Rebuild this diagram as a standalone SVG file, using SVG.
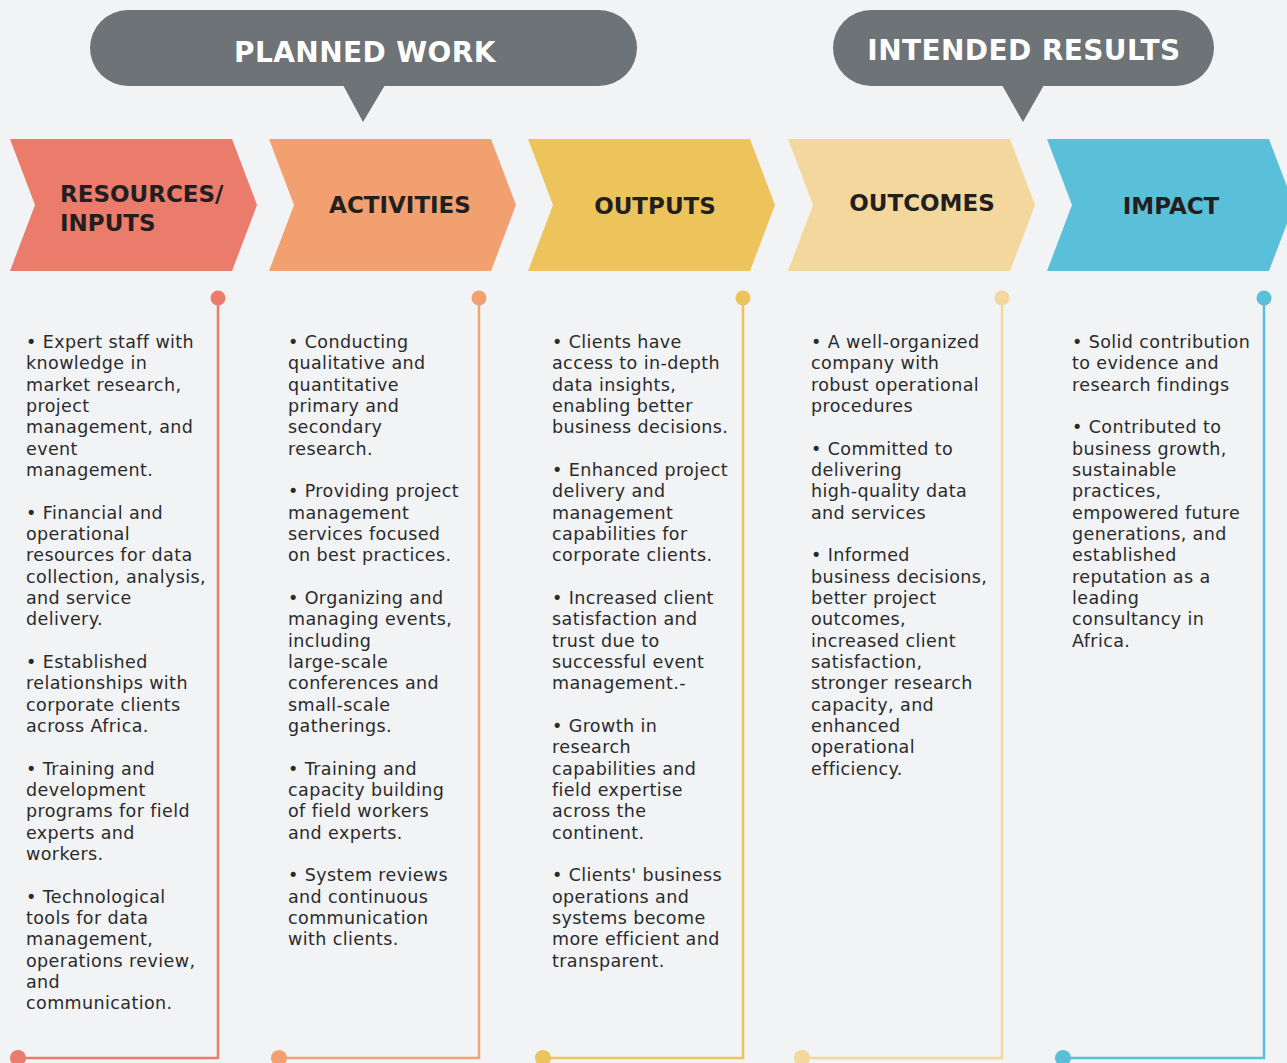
<svg xmlns="http://www.w3.org/2000/svg" width="1287" height="1063" viewBox="0 0 1287 1063">
<style>
.bubble{fill:#6d7376}
.htxt{font-family:"DejaVu Sans","Liberation Sans",sans-serif;font-weight:bold;font-size:28px;letter-spacing:0.4px;fill:#ffffff;text-anchor:middle}
.ctxt{font-family:"DejaVu Sans","Liberation Sans",sans-serif;font-weight:bold;font-size:23px;fill:#231f20}
.body{font-family:"DejaVu Sans","Liberation Sans",sans-serif;font-size:17.5px;letter-spacing:0.4px;fill:#2a2a2a}
.ln{fill:none;stroke-width:2.5}
</style>
<rect width="1287" height="1063" fill="#f2f3f5"/>
<g id="planned-work">
<rect class="bubble" x="90" y="10" width="547" height="76" rx="38"/>
<polygon class="bubble" points="343,85 385,85 363,122"/>
<text class="htxt" x="365" y="62">PLANNED WORK</text>
</g>
<g id="intended-results">
<rect class="bubble" x="833" y="10" width="381" height="76" rx="38"/>
<polygon class="bubble" points="1002,85 1044,85 1023,122"/>
<text class="htxt" x="1024" y="60">INTENDED RESULTS</text>
</g>
<g id="resources">
<polygon fill="#eb7b6b" points="10,139 232,139 257,205 232,271 10,271 35,205"/>
<text class="ctxt" x="60" y="202">RESOURCES/</text>
<text class="ctxt" x="60" y="231">INPUTS</text>
</g>
<g id="activities">
<polygon fill="#f2a070" points="269,139 491,139 516,205 491,271 269,271 294,205"/>
<text class="ctxt" x="400" y="213" text-anchor="middle">ACTIVITIES</text>
</g>
<g id="outputs">
<polygon fill="#edc35b" points="528,139 750,139 775,205 750,271 528,271 553,205"/>
<text class="ctxt" x="655" y="214" text-anchor="middle">OUTPUTS</text>
</g>
<g id="outcomes">
<polygon fill="#f4d79c" points="788,139 1010,139 1035,205 1010,271 788,271 813,205"/>
<text class="ctxt" x="922" y="211" text-anchor="middle">OUTCOMES</text>
</g>
<g id="impact">
<polygon fill="#5abfd8" points="1047,139 1269,139 1294,205 1269,271 1047,271 1072,205"/>
<text class="ctxt" x="1171" y="214" text-anchor="middle">IMPACT</text>
</g>
<g id="connectors">
<polyline class="ln" stroke="#eb7b6b" points="218,298 218,1058 18,1058"/>
<circle cx="218" cy="298" r="7.5" fill="#eb7b6b"/>
<circle cx="18" cy="1058" r="8" fill="#eb7b6b"/>
<polyline class="ln" stroke="#f4a378" points="479,298 479,1058 279,1058"/>
<circle cx="479" cy="298" r="7.5" fill="#f2a070"/>
<circle cx="279" cy="1058" r="8" fill="#f2a070"/>
<polyline class="ln" stroke="#edc35b" points="743,298 743,1058 543,1058"/>
<circle cx="743" cy="298" r="7.5" fill="#edc35b"/>
<circle cx="543" cy="1058" r="8" fill="#edc35b"/>
<polyline class="ln" stroke="#f4d79c" points="1002,298 1002,1058 802,1058"/>
<circle cx="1002" cy="298" r="7.5" fill="#f4d79c"/>
<circle cx="802" cy="1058" r="8" fill="#f4d79c"/>
<polyline class="ln" stroke="#5abfd8" points="1264,298 1264,1058 1063,1058"/>
<circle cx="1264" cy="298" r="7.5" fill="#5abfd8"/>
<circle cx="1063" cy="1058" r="8" fill="#5abfd8"/>
</g>
<g id="text-resources" class="body">
<text x="26" y="348">• Expert staff with</text>
<text x="26" y="369.3">knowledge in</text>
<text x="26" y="390.7">market research,</text>
<text x="26" y="412">project</text>
<text x="26" y="433.3">management, and</text>
<text x="26" y="454.7">event</text>
<text x="26" y="476">management.</text>
<text x="26" y="518.7">• Financial and</text>
<text x="26" y="540">operational</text>
<text x="26" y="561.3">resources for data</text>
<text x="26" y="582.7">collection, analysis,</text>
<text x="26" y="604">and service</text>
<text x="26" y="625.3">delivery.</text>
<text x="26" y="668">• Established</text>
<text x="26" y="689.3">relationships with</text>
<text x="26" y="710.7">corporate clients</text>
<text x="26" y="732">across Africa.</text>
<text x="26" y="774.7">• Training and</text>
<text x="26" y="796">development</text>
<text x="26" y="817.3">programs for field</text>
<text x="26" y="838.7">experts and</text>
<text x="26" y="860">workers.</text>
<text x="26" y="902.7">• Technological</text>
<text x="26" y="924">tools for data</text>
<text x="26" y="945.3">management,</text>
<text x="26" y="966.7">operations review,</text>
<text x="26" y="988">and</text>
<text x="26" y="1009.3">communication.</text>
</g>
<g id="text-activities" class="body">
<text x="288" y="348">• Conducting</text>
<text x="288" y="369.3">qualitative and</text>
<text x="288" y="390.7">quantitative</text>
<text x="288" y="412">primary and</text>
<text x="288" y="433.3">secondary</text>
<text x="288" y="454.7">research.</text>
<text x="288" y="497.3">• Providing project</text>
<text x="288" y="518.7">management</text>
<text x="288" y="540">services focused</text>
<text x="288" y="561.3">on best practices.</text>
<text x="288" y="604">• Organizing and</text>
<text x="288" y="625.3">managing events,</text>
<text x="288" y="646.7">including</text>
<text x="288" y="668">large-scale</text>
<text x="288" y="689.3">conferences and</text>
<text x="288" y="710.7">small-scale</text>
<text x="288" y="732">gatherings.</text>
<text x="288" y="774.7">• Training and</text>
<text x="288" y="796">capacity building</text>
<text x="288" y="817.3">of field workers</text>
<text x="288" y="838.7">and experts.</text>
<text x="288" y="881.3">• System reviews</text>
<text x="288" y="902.7">and continuous</text>
<text x="288" y="924">communication</text>
<text x="288" y="945.3">with clients.</text>
</g>
<g id="text-outputs" class="body">
<text x="552" y="348">• Clients have</text>
<text x="552" y="369.3">access to in-depth</text>
<text x="552" y="390.7">data insights,</text>
<text x="552" y="412">enabling better</text>
<text x="552" y="433.3">business decisions.</text>
<text x="552" y="476">• Enhanced project</text>
<text x="552" y="497.3">delivery and</text>
<text x="552" y="518.7">management</text>
<text x="552" y="540">capabilities for</text>
<text x="552" y="561.3">corporate clients.</text>
<text x="552" y="604">• Increased client</text>
<text x="552" y="625.3">satisfaction and</text>
<text x="552" y="646.7">trust due to</text>
<text x="552" y="668">successful event</text>
<text x="552" y="689.3">management.-</text>
<text x="552" y="732">• Growth in</text>
<text x="552" y="753.3">research</text>
<text x="552" y="774.7">capabilities and</text>
<text x="552" y="796">field expertise</text>
<text x="552" y="817.3">across the</text>
<text x="552" y="838.7">continent.</text>
<text x="552" y="881.3">• Clients' business</text>
<text x="552" y="902.7">operations and</text>
<text x="552" y="924">systems become</text>
<text x="552" y="945.3">more efficient and</text>
<text x="552" y="966.7">transparent.</text>
</g>
<g id="text-outcomes" class="body">
<text x="811" y="348">• A well-organized</text>
<text x="811" y="369.3">company with</text>
<text x="811" y="390.7">robust operational</text>
<text x="811" y="412">procedures</text>
<text x="811" y="454.7">• Committed to</text>
<text x="811" y="476">delivering</text>
<text x="811" y="497.3">high-quality data</text>
<text x="811" y="518.7">and services</text>
<text x="811" y="561.3">• Informed</text>
<text x="811" y="582.7">business decisions,</text>
<text x="811" y="604">better project</text>
<text x="811" y="625.3">outcomes,</text>
<text x="811" y="646.7">increased client</text>
<text x="811" y="668">satisfaction,</text>
<text x="811" y="689.3">stronger research</text>
<text x="811" y="710.7">capacity, and</text>
<text x="811" y="732">enhanced</text>
<text x="811" y="753.3">operational</text>
<text x="811" y="774.7">efficiency.</text>
</g>
<g id="text-impact" class="body">
<text x="1072" y="348">• Solid contribution</text>
<text x="1072" y="369.3">to evidence and</text>
<text x="1072" y="390.7">research findings</text>
<text x="1072" y="433.3">• Contributed to</text>
<text x="1072" y="454.7">business growth,</text>
<text x="1072" y="476">sustainable</text>
<text x="1072" y="497.3">practices,</text>
<text x="1072" y="518.7">empowered future</text>
<text x="1072" y="540">generations, and</text>
<text x="1072" y="561.3">established</text>
<text x="1072" y="582.7">reputation as a</text>
<text x="1072" y="604">leading</text>
<text x="1072" y="625.3">consultancy in</text>
<text x="1072" y="646.7">Africa.</text>
</g>
</svg>
